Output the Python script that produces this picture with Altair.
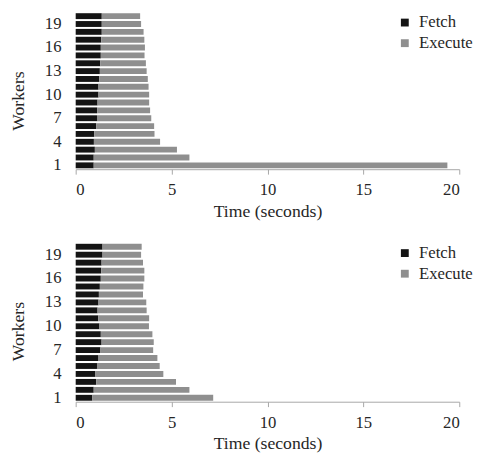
import altair as alt
import pandas as pd

workers = list(range(1, 21))
phases = ["Fetch", "Execute"]

fetch_top = [0.94, 0.94, 1.00, 0.95, 0.97, 1.07, 1.11, 1.12, 1.14, 1.19,
             1.19, 1.23, 1.26, 1.28, 1.31, 1.31, 1.33, 1.36, 1.36, 1.36]
exec_top = [18.44, 4.99, 4.28, 3.45, 3.14, 3.02, 2.83, 2.76, 2.69, 2.64,
            2.61, 2.53, 2.44, 2.38, 2.28, 2.30, 2.25, 2.18, 2.05, 2.00]

fetch_bot = [0.87, 0.94, 1.07, 1.01, 1.11, 1.19, 1.29, 1.35, 1.31, 1.24,
             1.18, 1.14, 1.19, 1.21, 1.26, 1.31, 1.33, 1.35, 1.40, 1.40]
exec_bot = [6.30, 4.99, 4.16, 3.56, 3.27, 3.07, 2.75, 2.72, 2.69, 2.58,
            2.65, 2.56, 2.49, 2.30, 2.27, 2.27, 2.25, 2.16, 2.01, 2.04]

x_ticks = [0, 5, 10, 15, 20]
y_ticks = [1, 4, 7, 10, 13, 16, 19]

FONT = "Liberation Serif"
TXT = "#262626"


def make_df(fetch, execute):
    rows = []
    for w, f, e in zip(workers, fetch, execute):
        rows.append({"Workers": w, "Phase": "Fetch", "Time": f, "ord": 0})
        rows.append({"Workers": w, "Phase": "Execute", "Time": e, "ord": 1})
    return pd.DataFrame(rows)


def panel(fetch, execute, h):
    df = make_df(fetch, execute)
    return alt.Chart(df).mark_bar(size=6).encode(
        y=alt.Y("Workers:O", sort="descending",
                scale=alt.Scale(paddingInner=0.25, paddingOuter=0.12),
                axis=alt.Axis(values=y_ticks, title="Workers", domain=False,
                              ticks=False, labelPadding=15, titlePadding=17,
                              labelAngle=0, titleY=90)),
        x=alt.X("Time:Q", stack="zero",
                scale=alt.Scale(domain=[0, 20], nice=False),
                axis=alt.Axis(values=x_ticks, title="Time (seconds)", grid=False,
                              tickSize=5, labelPadding=8, titlePadding=5)),
        color=alt.Color("Phase:N",
                        scale=alt.Scale(domain=phases, range=["#141414", "#8f8f8f"]),
                        legend=alt.Legend(title=None, orient="none", legendX=327,
                                          legendY=2, symbolType="square",
                                          symbolSize=64, symbolStrokeWidth=0,
                                          rowPadding=3, labelFontSize=17,
                                          labelOffset=6, padding=0,
                                          labelFont=FONT, labelColor=TXT)),
        order=alt.Order("ord:Q"),
    ).properties(width=391, height=h)


chart = alt.vconcat(panel(fetch_top, exec_top, 160), panel(fetch_bot, exec_bot, 162),
                    spacing=23).resolve_legend(color="independent").properties(
    padding={"left": 2, "top": 0, "right": 0, "bottom": 0}
).configure_view(stroke=None).configure_axis(
    labelFont=FONT, titleFont=FONT, labelFontSize=17, titleFontSize=18,
    labelColor=TXT, titleColor=TXT, titleFontWeight="normal",
    domainColor="#a6a6a6", tickColor="#a6a6a6"
)

chart.save("out.html", embed_options={"renderer": "svg", "actions": False})
